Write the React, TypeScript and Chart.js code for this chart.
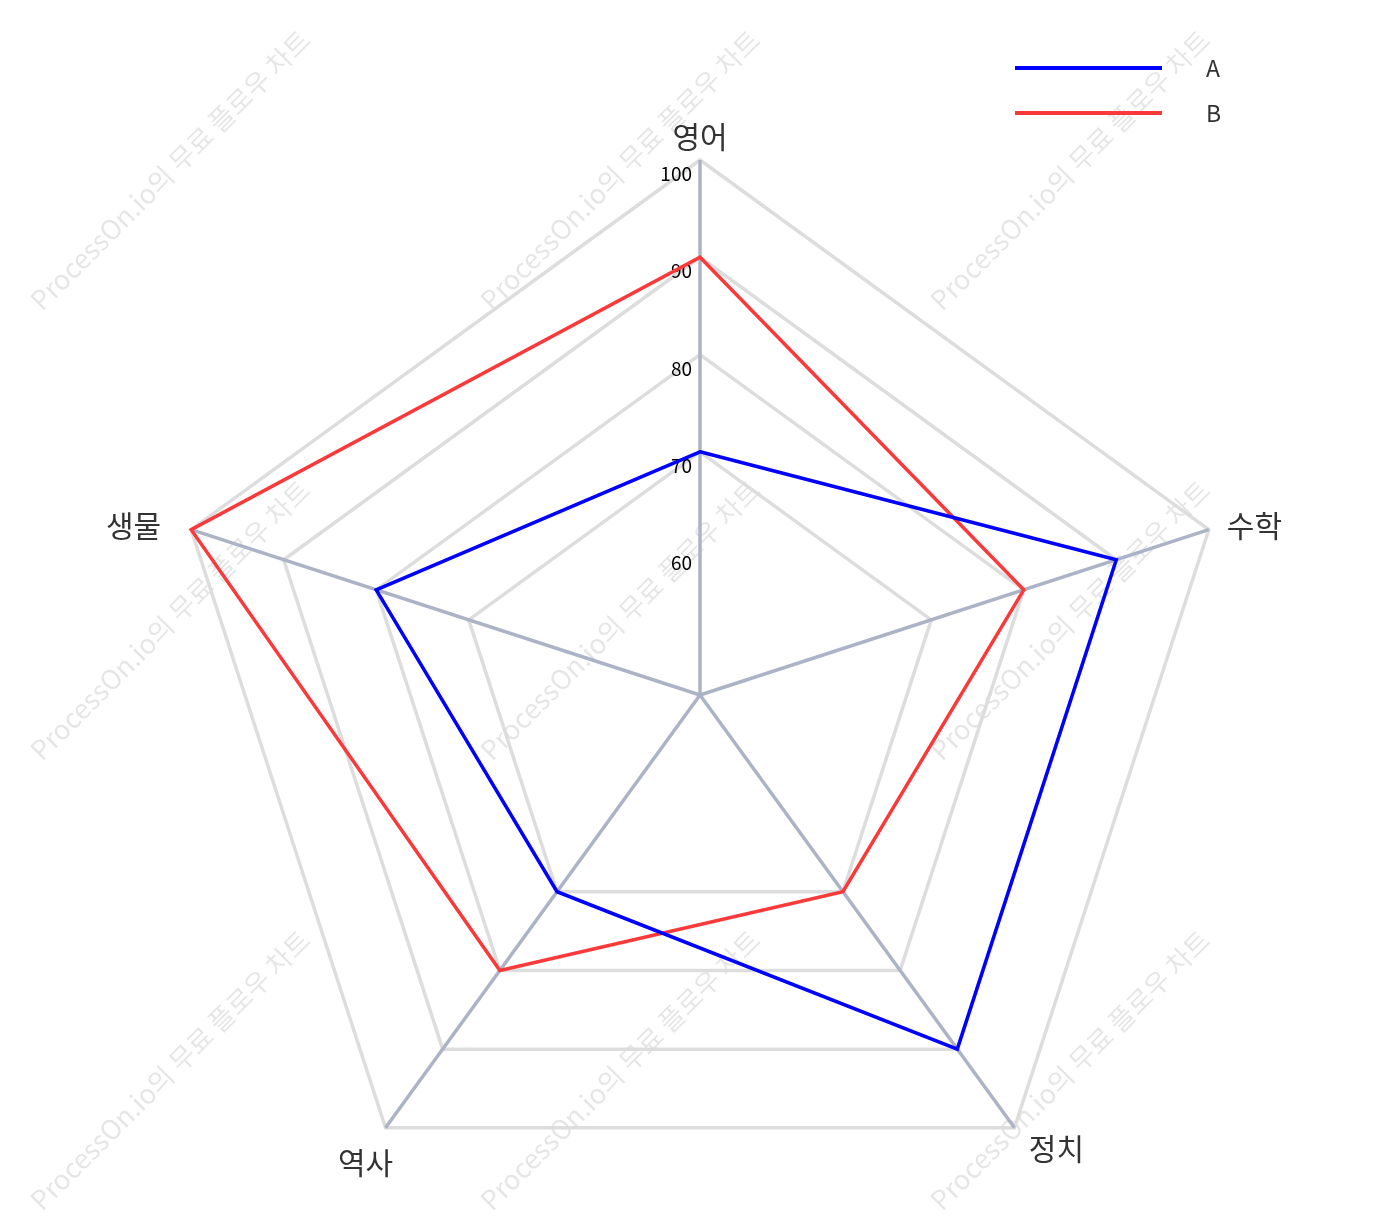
import { useEffect, useRef } from 'react';
import { Chart, registerables } from 'chart.js';

Chart.register(...registerables);

const SUBJECTS = ['영어', '수학', '정치', '역사', '생물'];
const SERIES_NAMES = ['A', 'B'];
const SERIES_A = [70, 90, 90, 70, 80];
const SERIES_B = [90, 80, 70, 80, 100];
const SERIES_COLORS = ['#0000ff', '#fa3a3a'];
const TICK_VALUES = [60, 70, 80, 90, 100];
const SCALE_MIN = 45;
const SCALE_MAX = 100;
const WATERMARK = 'ProcessOn.io의 무료 플로우 차트';

const FONT = '"Noto Sans CJK KR", "Noto Sans", sans-serif';

const watermarkPlugin = {
  id: 'watermark',
  beforeDraw(chart: any) {
    const ctx = chart.ctx;
    ctx.save();
    ctx.font = `27px ${FONT}`;
    ctx.fillStyle = 'rgba(0,0,0,0.10)';
    ctx.textAlign = 'center';
    ctx.textBaseline = 'middle';
    for (let i = 0; i < 4; i++) {
      for (let j = 0; j < 3; j++) {
        ctx.save();
        ctx.translate(162 + 450 * i, 162 + 450 * j);
        ctx.rotate(-Math.PI / 4);
        ctx.fillText(WATERMARK, 0, 0);
        ctx.restore();
      }
    }
    ctx.restore();
  },
};

const tickLabelPlugin = {
  id: 'tickLabels',
  beforeDatasetsDraw(chart: any) {
    const scale = chart.scales.r;
    const ctx = chart.ctx;
    ctx.save();
    ctx.font = `19px ${FONT}`;
    ctx.fillStyle = '#000';
    ctx.textAlign = 'right';
    ctx.textBaseline = 'middle';
    scale.ticks.forEach((t: any) => {
      const d = scale.getDistanceFromCenterForValue(t.value);
      ctx.fillText(String(t.value), scale.xCenter - 8, scale.yCenter - d + 14);
    });
    ctx.restore();
  },
};

const pointLabelPlugin = {
  id: 'axisNames',
  afterDatasetsDraw(chart: any) {
    const scale = chart.scales.r;
    const ctx = chart.ctx;
    ctx.save();
    ctx.font = `30px ${FONT}`;
    ctx.fillStyle = '#333';
    chart.data.labels.forEach((label: string, i: number) => {
      const p = scale.getPointPosition(i, scale.drawingArea);
      const dx = p.x - scale.xCenter;
      const dy = p.y - scale.yCenter;
      let x = p.x;
      let y = p.y;
      if (Math.abs(dx) < 1) {
        ctx.textAlign = 'center';
        ctx.textBaseline = 'bottom';
        y = p.y - 8;
      } else if (dy < 0) {
        ctx.textAlign = dx > 0 ? 'left' : 'right';
        ctx.textBaseline = 'middle';
        x = p.x + (dx > 0 ? 18 : -30);
        y = p.y - 4;
      } else {
        ctx.textAlign = 'center';
        ctx.textBaseline = 'top';
        x = p.x + (dx > 0 ? 42 : -20);
        y = p.y + (dx > 0 ? 6 : 20);
      }
      ctx.fillText(label, x, y);
    });
    ctx.restore();
  },
};

const legendPlugin = {
  id: 'customLegend',
  afterDraw(chart: any) {
    const ctx = chart.ctx;
    ctx.save();
    chart.data.datasets.forEach((ds: any, i: number) => {
      const y = 60 + i * 45;
      ctx.strokeStyle = ds.borderColor;
      ctx.lineWidth = 4;
      ctx.beginPath();
      ctx.moveTo(1007, y);
      ctx.lineTo(1154, y);
      ctx.stroke();
      ctx.fillStyle = '#333';
      ctx.font = `23px ${FONT}`;
      ctx.textAlign = 'left';
      ctx.textBaseline = 'middle';
      ctx.fillText(ds.label, 1198, y);
    });
    ctx.restore();
  },
};

export default function App() {
  const ref = useRef<HTMLCanvasElement>(null);
  useEffect(() => {
    if (!ref.current) return;
    const chart = new Chart(ref.current, {
      type: 'radar',
      data: {
        labels: SUBJECTS,
        datasets: [
          {
            label: SERIES_NAMES[0],
            data: SERIES_A,
            borderColor: SERIES_COLORS[0],
            backgroundColor: 'transparent',
            borderWidth: 3.5,
            pointRadius: 0,
            fill: false,
          },
          {
            label: SERIES_NAMES[1],
            data: SERIES_B,
            borderColor: SERIES_COLORS[1],
            backgroundColor: 'transparent',
            borderWidth: 3.5,
            pointRadius: 0,
            fill: false,
          },
        ],
      },
      options: {
        responsive: false,
        animation: false,
        layout: { padding: { top: 80, bottom: 7, left: 16, right: 0 } },
        plugins: {
          legend: { display: false },
          tooltip: { enabled: false },
        },
        scales: {
          r: {
            min: SCALE_MIN,
            max: SCALE_MAX,
            afterBuildTicks: (scale: any) => {
              scale.ticks = TICK_VALUES.map((v) => ({ value: v }));
            },
            ticks: { display: false },
            grid: { color: '#dddddd', lineWidth: 3.5 },
            angleLines: { color: '#adb3c6', lineWidth: 3.5 },
            pointLabels: {
              color: 'rgba(0,0,0,0)',
              font: { size: 30, family: FONT },
              padding: 12,
            },
          },
        },
      },
      plugins: [watermarkPlugin, tickLabelPlugin, pointLabelPlugin, legendPlugin],
    });
    return () => chart.destroy();
  }, []);
  return (
    <div style={{ height: 1214, overflow: 'hidden' }}>
      <canvas ref={ref} width={1369} height={1253} style={{ display: 'block' }} />
    </div>
  );
}
